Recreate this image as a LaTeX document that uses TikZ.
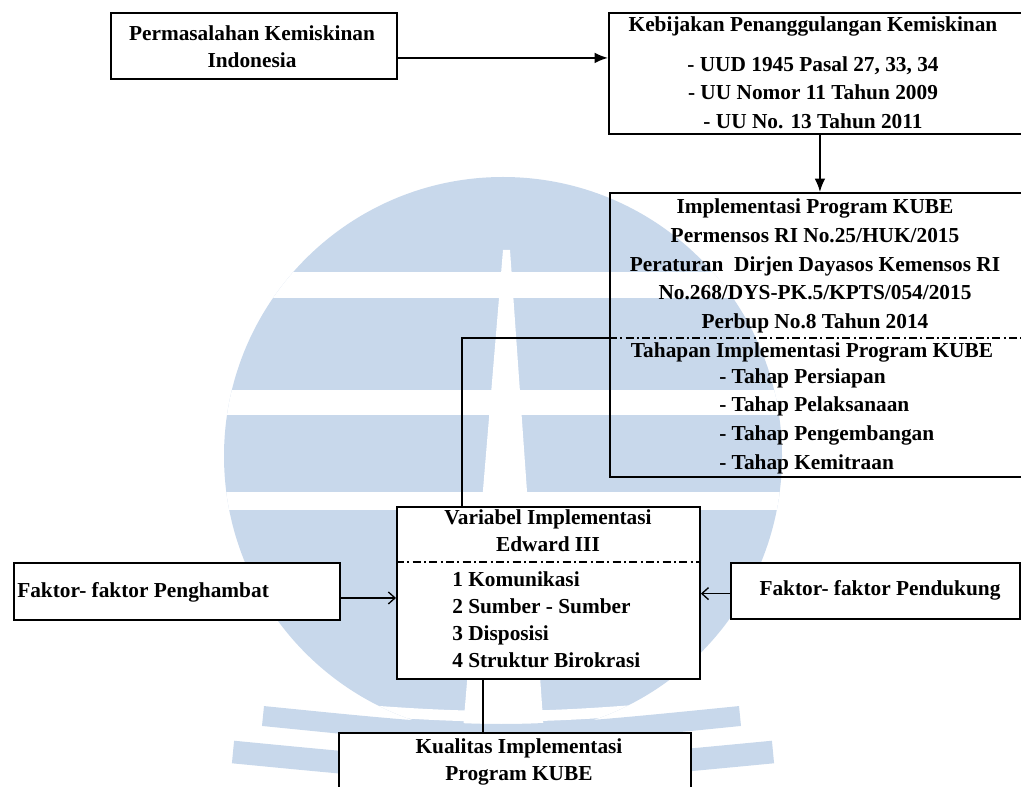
\documentclass[tikz,border=0pt]{standalone}
\usepackage{fontspec}
\setmainfont{Liberation Serif}
\usetikzlibrary{arrows.meta}
\definecolor{wmblue}{RGB}{200,216,235}
\begin{document}
\begin{tikzpicture}[x=0.75pt,y=-0.75pt,
  box/.style={draw, line width=1.4pt, inner sep=0pt, anchor=north west},
  wbox/.style={box, fill=white},
  txt/.style={font=\fontsize{16}{21.5}\selectfont\bfseries, inner sep=0pt, align=center},
  ltxt/.style={txt, align=left},
  link/.style={line width=1.3pt},
  fwd/.style={link, -{Latex[length=10pt,width=8pt]}},
  openarr/.style={line width=1pt, -{Straight Barb[length=5pt,width=9pt]}},
  divider/.style={line width=1pt, dash pattern=on 6pt off 2.5pt on 1.5pt off 2.5pt},
]
\useasboundingbox (0,0) rectangle (1021,787);
\begin{scope}
\clip (0,0) rectangle (1021,787);

% ---- background emblem ----
\begin{scope}
  \clip (503,456) circle (279);
  \fill[wmblue] (0,0) rectangle (1021,787);
  \fill[white] (0,272) rectangle (1021,298);
  \fill[white] (0,390) rectangle (1021,415);
  \fill[white] (0,492) rectangle (1021,510);
  \fill[white] (503,250) -- (510,250) -- (548,790) -- (458,790) -- cycle;
  \draw[white, line width=8pt] (150,690) .. controls (500,725) .. (850,690);
\end{scope}
\draw[wmblue, line width=15pt] (263,716) .. controls (501,740) .. (740,716);
\draw[wmblue, line width=17pt] (233,752) .. controls (501,778) .. (773,752);

% ---- boxes ----
\node[box, minimum width=214.5pt, minimum height=49.5pt] (p1) at (110,12) {};
\node[box, minimum width=316.5pt, minimum height=90.75pt] (p2) at (608,12) {};
\node[box, minimum width=315.75pt, minimum height=213pt] (p3) at (609,192) {};
\node[wbox, minimum width=227.25pt, minimum height=129pt] (v) at (396,506) {};
\node[wbox, minimum width=244.5pt, minimum height=42.75pt] (h) at (13,562) {};
\node[wbox, minimum width=216.75pt, minimum height=42pt] (d) at (730,562) {};
\node[wbox, minimum width=264pt, minimum height=60pt] (k) at (338,732) {};

% ---- dividers ----
\draw[divider] ([yshift=-109.5pt]p3.north west) -- ([yshift=-109.5pt]p3.north east);
\draw[divider] ([yshift=-42pt]v.north west) -- ([yshift=-42pt]v.north east);

% ---- texts ----
\node[txt] (t1) at (252,47) {Permasalahan Kemiskinan\\[-1pt]Indonesia};
\node[txt] (t2) at (813,73) {Kebijakan Penanggulangan Kemiskinan\\[8pt]
  - UUD 1945 Pasal 27, 33, 34\\ - UU Nomor 11 Tahun 2009\\ - UU No. 13 Tahun 2011};
\node[txt] (t3) at (815,266) {Implementasi Program KUBE\\ Permensos RI No.25/HUK/2015\\
  Peraturan~ Dirjen Dayasos Kemensos RI\\ No.268/DYS-PK.5/KPTS/054/2015\\ Perbup No.8 Tahun 2014};
\node[txt] (t4) at (812,352) {Tahapan Implementasi Program KUBE};
\node[ltxt, anchor=west] (t5) at (719,421) {- Tahap Persiapan\\ - Tahap Pelaksanaan\\ - Tahap Pengembangan\\ - Tahap Kemitraan};
\node[txt] (t6) at (548,531) {Variabel Implementasi\\[-1pt] Edward III};
\node[ltxt, anchor=west, font=\fontsize{16}{20.25}\selectfont\bfseries] (t7) at (452,620) {1 Komunikasi\\ 2 Sumber - Sumber\\ 3 Disposisi\\ 4 Struktur Birokrasi};
\node[ltxt, anchor=west] (t8) at (17,592) {Faktor- faktor Penghambat};
\node[txt] (t9) at (880,590) {Faktor- faktor Pendukung};
\node[txt] (t10) at (519,762) {Kualitas Implementasi\\[-1pt] Program KUBE};

% ---- connectors ----
\draw[fwd] ([yshift=-9pt]p1.east) -- ([yshift=-9pt]p1.east -| p2.west);
\draw[fwd] (p2.south) -- (p2.south |- p3.north);
\draw[link] ([xshift=49.5pt]v.north west) |- ([yshift=-109.5pt]p3.north west);
\draw[openarr] ([yshift=-4.9pt]h.east) -- ([yshift=-4.9pt]h.east -| v.west);
\draw[openarr] ([yshift=-2pt]d.west) -- ([yshift=-2pt]d.west -| v.east);
\draw[link] ([xshift=-49.1pt]v.south) -- ([xshift=-49.1pt]v.south |- k.north);
\end{scope}
\end{tikzpicture}
\end{document}
